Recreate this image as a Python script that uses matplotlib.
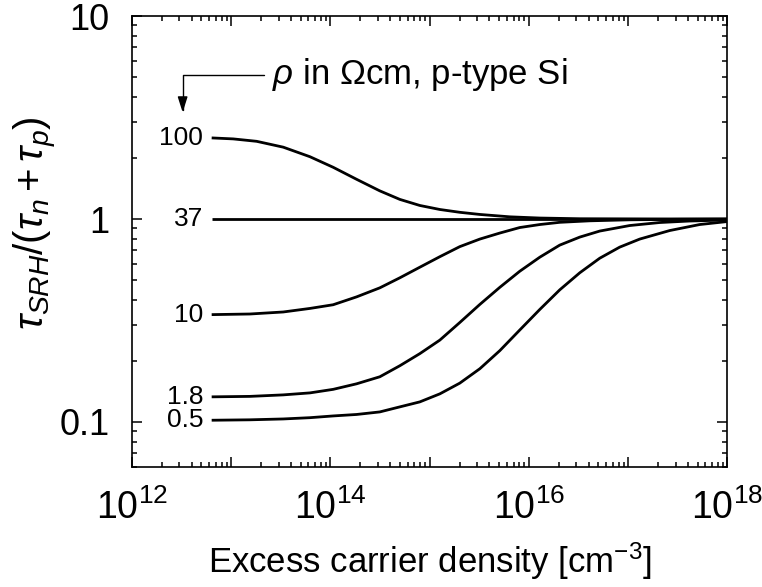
import numpy as np
import matplotlib
matplotlib.use("Agg")
import matplotlib.pyplot as plt
from matplotlib.ticker import LogLocator, NullFormatter

plt.rcParams['font.family'] = ['Liberation Sans', 'DejaVu Sans']
plt.rcParams['mathtext.fontset'] = 'custom'
plt.rcParams['mathtext.rm'] = 'Liberation Sans'
plt.rcParams['mathtext.it'] = 'Liberation Sans:italic'
plt.rcParams['mathtext.bf'] = 'Liberation Sans:bold'

# values (x as log10 of excess carrier density in cm^-3)
lx_100 = [12.803, 13.020, 13.256, 13.524, 13.793, 14.027, 14.263, 14.497, 14.699, 14.900,
          15.102, 15.303, 15.505, 15.807, 16.109, 16.512, 17.216, 18.0]
y_100 = [2.509, 2.481, 2.414, 2.259, 2.027, 1.798, 1.569, 1.376, 1.249, 1.166,
         1.114, 1.079, 1.053, 1.025, 1.011, 1.003, 1.001, 1.0]

lx_37 = [12.803, 18.0]
y_37 = [1.0, 1.0]

lx_10 = [12.803, 13.188, 13.524, 13.793, 14.027, 14.263, 14.497, 14.699, 14.900, 15.102,
         15.303, 15.505, 15.706, 15.907, 16.109, 16.310, 16.612, 17.015, 17.519, 18.0]
y_10 = [0.338, 0.3404, 0.3483, 0.3626, 0.3781, 0.4134, 0.4580, 0.5133, 0.5787, 0.6522,
        0.7310, 0.7964, 0.8527, 0.9077, 0.9392, 0.9631, 0.9797, 0.9909, 0.9966, 1.0]

lx_18 = [12.803, 13.188, 13.524, 13.793, 14.027, 14.263, 14.497, 14.699, 14.900, 15.102,
         15.303, 15.505, 15.706, 15.907, 16.109, 16.310, 16.512, 16.713, 17.015, 17.317,
         17.619, 18.0]
y_18 = [0.1330, 0.1337, 0.1360, 0.1391, 0.1448, 0.1542, 0.1670, 0.1893, 0.2171, 0.2532,
        0.3091, 0.3795, 0.4606, 0.5528, 0.6484, 0.7437, 0.8145, 0.8722, 0.9286, 0.9609,
        0.9775, 0.9887]

lx_05 = [12.803, 13.188, 13.524, 13.793, 14.027, 14.263, 14.497, 14.699, 14.900, 15.102,
         15.303, 15.505, 15.706, 15.907, 16.109, 16.310, 16.512, 16.713, 16.914, 17.116,
         17.418, 17.720, 18.0]
y_05 = [0.1020, 0.1025, 0.1035, 0.1050, 0.1071, 0.1089, 0.1121, 0.1187, 0.1256, 0.1376,
        0.1554, 0.1830, 0.2246, 0.2838, 0.3584, 0.4477, 0.5434, 0.6410, 0.7268, 0.7964,
        0.8773, 0.9392, 0.9719]

curves = [("100", lx_100, y_100), ("37", lx_37, y_37), ("10", lx_10, y_10),
          ("1.8", lx_18, y_18), ("0.5", lx_05, y_05)]

xmajor = [12, 13, 14, 15, 16, 17, 18]
xlabeled = [12, 14, 16, 18]
yticks = [0.1, 1, 10]
yticklabels = ["0.1", "1", "10"]

fig = plt.figure(figsize=(7.62, 5.87), dpi=100)
ax = fig.add_axes([0.1732, 0.2044, 0.7815, 0.7683])

for name, lx, y in curves:
    x = 10.0 ** np.array(lx)
    ax.plot(x, y, color='black', lw=2.0, solid_capstyle='butt')
    ax.annotate(name, xy=(x[0], y[0]), xytext=(-6, 0), textcoords='offset points',
                ha='right', va='center', fontsize=19)

ax.set_xscale('log')
ax.set_yscale('log')
ax.set_xlim(1e12, 1e18)
ax.set_ylim(0.06, 10)

ax.set_xticks([10.0 ** e for e in xmajor])
ax.set_xticklabels(["$10^{%d}$" % e if e in xlabeled else "" for e in xmajor])
ax.xaxis.set_minor_locator(LogLocator(base=10, subs=np.arange(2, 10), numticks=20))
ax.xaxis.set_minor_formatter(NullFormatter())

ax.set_yticks(yticks)
ax.set_yticklabels(yticklabels)
ax.yaxis.set_minor_locator(LogLocator(base=10, subs=np.arange(2, 10), numticks=20))
ax.yaxis.set_minor_formatter(NullFormatter())

ax.tick_params(which='both', direction='in', top=True, right=True, width=1.1)
ax.tick_params(which='major', length=7)
ax.tick_params(which='minor', length=3.8)
ax.tick_params(axis='x', labelsize=27, pad=16)
ax.tick_params(axis='y', labelsize=26, pad=16)
for s in ax.spines.values():
    s.set_linewidth(1.2)

ax.set_xlabel('Excess carrier density [cm$^{-3}$]', fontsize=25)
ax.xaxis.set_label_coords(0.5, -0.162)
ax.set_ylabel(r'$\tau_{SRH}/(\tau_n + \tau_p)$', fontsize=29)
ax.yaxis.set_label_coords(-0.122, 0.54)

ax.annotate(r'$\rho$ in $\Omega$cm, p-type Si', xy=(3.24e12, 3.35), xytext=(2.6e13, 5.15),
            ha='left', va='center', fontsize=25,
            arrowprops=dict(arrowstyle='-|>,head_length=0.95,head_width=0.3', color='black',
                            lw=1.0, shrinkA=4, shrinkB=0, relpos=(0, 0.5),
                            connectionstyle='angle,angleA=180,angleB=90,rad=0',
                            mutation_scale=10))

fig.savefig('out.png', dpi=100)
